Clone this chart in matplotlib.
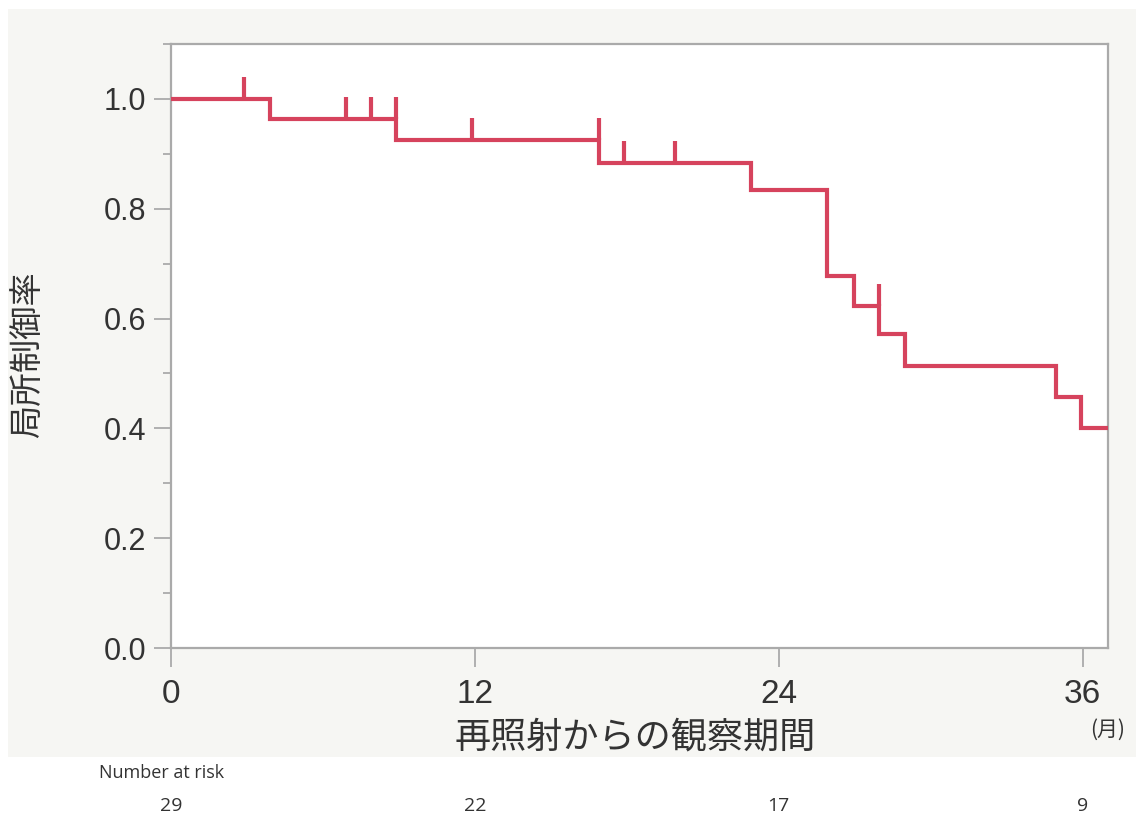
import numpy as np
import matplotlib
matplotlib.use("Agg")
import matplotlib.pyplot as plt
from matplotlib.patches import Rectangle
from matplotlib.ticker import MultipleLocator

plt.rcParams['font.family'] = ['Liberation Sans', 'Noto Sans CJK JP', 'DejaVu Sans']

# Kaplan-Meier estimate of local control
event_times = [3.9, 8.9, 16.9, 22.9, 25.9, 26.97, 27.94, 28.99, 34.95, 35.93]
survival = [1.0, 0.964, 0.926, 0.884, 0.835, 0.678, 0.623, 0.571, 0.514, 0.457, 0.400]
censor_times = [2.9, 6.9, 7.9, 8.9, 11.9, 16.9, 17.9, 19.9, 27.94]

risk_times = [0, 12, 24, 36]
risk_counts = [29, 22, 17, 9]

x_ticks = [0, 12, 24, 36]
y_ticks = [0.0, 0.2, 0.4, 0.6, 0.8, 1.0]

line_color = '#d6435d'
axis_color = '#aaaaaa'
text_color = '#333333'
x_max = 37
cjk = ['Noto Sans CJK JP', 'DejaVu Sans']

fig = plt.figure(figsize=(11.36, 8.21), dpi=100)
fig.patch.set_facecolor('white')
fig.patches.append(Rectangle((8 / 1136, 1 - 757 / 821), 1 - 8 / 1136, (757 - 9) / 821,
                             transform=fig.transFigure, facecolor='#f6f6f3',
                             edgecolor='none', zorder=-10))

ax = fig.add_axes([171 / 1136, 1 - 648 / 821, (1108 - 171) / 1136, (648 - 44) / 821])
ax.set_zorder(5)
ax.set_facecolor('white')

# step curve
xs = [0.0] + event_times + [x_max]
ys = survival + [survival[-1]]
ax.step(xs, ys, where='post', color=line_color, lw=3.0, solid_joinstyle='miter',
        clip_on=True, zorder=3)

# censoring marks, drawn upward from the level just before each time
idx = np.searchsorted(np.array(event_times), np.array(censor_times), side='left')
levels = np.array(survival)[idx]
ax.vlines(censor_times, levels, levels + 0.04, color=line_color, lw=3.0, zorder=3)

ax.set_xlim(0, x_max)
ax.set_ylim(0, 1.1)
ax.set_xticks(x_ticks)
ax.set_yticks(y_ticks)
ax.set_yticklabels([f"{v:.1f}" for v in y_ticks])
ax.yaxis.set_minor_locator(MultipleLocator(0.1))

for s in ax.spines.values():
    s.set_color(axis_color)
    s.set_linewidth(1.6)

ax.tick_params(axis='y', which='major', length=12, width=1.3, color=axis_color,
               labelsize=22, labelcolor=text_color, pad=6)
ax.tick_params(axis='y', which='minor', length=6, width=1.3, color=axis_color)
ax.tick_params(axis='x', which='major', length=14, width=1.3, color=axis_color,
               labelsize=24, labelcolor=text_color, pad=8)

ax.set_ylabel('局所制御率', fontsize=24, color=text_color, family=cjk)
ax.yaxis.label.set_va('center')
ax.yaxis.set_label_coords((28 - 171) / 937, (648 - 355) / 604)

ax.set_xlabel('再照射からの観察期間', fontsize=26, color=text_color, family=cjk)
ax.xaxis.label.set_va('center')
ax.xaxis.set_label_coords(0.495, (648 - 737) / 604)

ax.text(1.0, (648 - 730) / 604, '(月)', transform=ax.transAxes, fontsize=15,
        color=text_color, family=cjk, ha='center', va='center')

# number at risk table
fig.text(162 / 1136, 1 - 773 / 821, 'Number at risk', fontsize=13, color=text_color,
         ha='center', va='center', family=['Open Sans', 'DejaVu Sans'])
for t, n in zip(risk_times, risk_counts):
    xf = ax.transData.transform((t, 0))[0] / fig.bbox.width
    fig.text(xf, 1 - 806 / 821, str(n), fontsize=14, color=text_color,
             ha='center', va='center', family=['Open Sans', 'DejaVu Sans'])

fig.savefig('out.png', dpi=100, facecolor=fig.get_facecolor())
